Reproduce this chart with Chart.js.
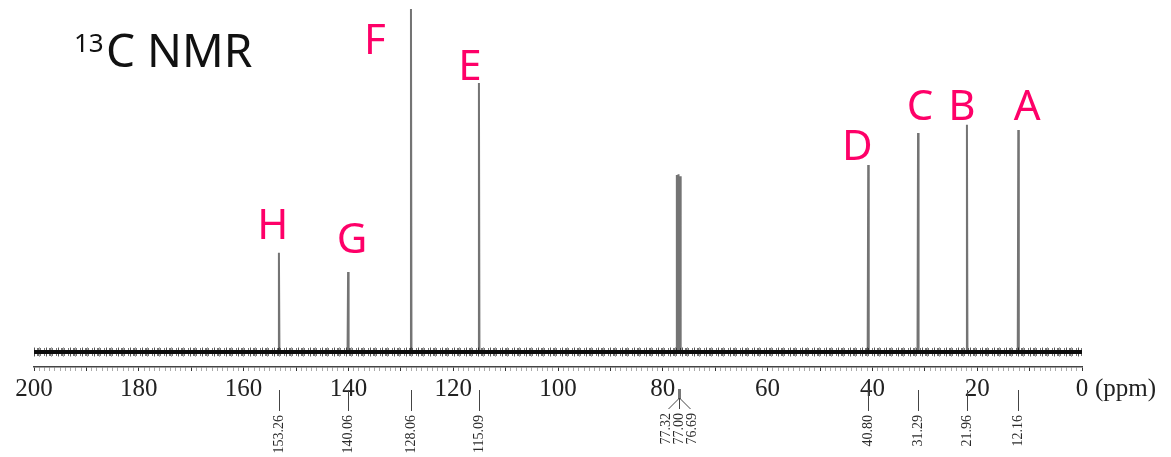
<!DOCTYPE html>
<html>
<head>
<meta charset="utf-8">
<script src="https://cdn.jsdelivr.net/npm/chart.js@4.4.1/dist/chart.umd.min.js"></script>
<style>
  html, body { margin: 0; padding: 0; background: #ffffff; }
  canvas { display: block; }
</style>
</head>
<body>
<canvas id="nmr" width="1171" height="457"></canvas>
<script>
// 13C NMR spectrum: chemical shifts (ppm) and relative peak heights
const shifts      = [153.26, 140.06, 128.06, 115.09, 77.32, 77.00, 76.69, 40.80, 31.29, 21.96, 12.16];
const intensities = [28.9,   23.3,   100.0,  78.4,   51.6,  51.8,  51.2,  54.5,  63.8,  66.2,  64.7];

// solvent (CDCl3) triplet, labelled as a group
const solventShifts = [77.32, 77.00, 76.69];

// carbon assignments
const assignLetters = ['H', 'G', 'F', 'E', 'D', 'C', 'B', 'A'];
const assignShifts  = [153.26, 140.06, 128.06, 115.09, 40.80, 31.29, 21.96, 12.16];

// axis
const axisMin = 0, axisMax = 200, labelStep = 20;

// ---- styling ----
const PINK = '#fe0068';
const letterOffsets = {      // [dx, dy] in px relative to peak top (baseline of the letter)
  H: [-6, -14], G: [4, -19], F: [-36, 45], E: [-9, -3],
  D: [-11, -5], C: [2, -13], B: [-5, -5], A: [9, -10]
};

// spectrum polyline: flat baseline with narrow peaks
const spectrum = [{ x: axisMax, y: 0 }];
shifts.forEach((p, i) => {
  spectrum.push({ x: p + 0.1, y: 0 }, { x: p, y: intensities[i] }, { x: p - 0.1, y: 0 });
});
spectrum.push({ x: axisMin, y: 0 });
const baseline = [{ x: axisMax, y: 0 }, { x: axisMin, y: 0 }];

const annotations = {
  id: 'annotations',
  afterDraw(chart) {
    const ctx = chart.ctx;
    const xs = chart.scales.x, ys = chart.scales.y;
    ctx.save();

    // title with superscript mass number
    ctx.fillStyle = '#111';
    ctx.textBaseline = 'alphabetic';
    ctx.textAlign = 'left';
    ctx.font = '26px "Noto Sans"';
    ctx.fillText('13', 74, 52);
    ctx.font = '46px "Noto Sans"';
    ctx.fillText('C NMR', 106, 67);

    // assignment letters
    ctx.fillStyle = PINK;
    ctx.font = '42px "Noto Sans"';
    ctx.textAlign = 'center';
    assignLetters.forEach((L, i) => {
      const p = assignShifts[i];
      const h = intensities[shifts.indexOf(p)];
      const [dx, dy] = letterOffsets[L];
      ctx.fillText(L, xs.getPixelForValue(p) + dx, ys.getPixelForValue(h) + dy);
    });

    // unit after the zero tick
    ctx.fillStyle = '#222';
    ctx.font = '25px "Liberation Serif"';
    ctx.textAlign = 'left';
    ctx.textBaseline = 'middle';
    ctx.fillText('(ppm)', xs.getPixelForValue(0) + 13, 389);

    // peak shift labels under the axis
    ctx.strokeStyle = '#444';
    ctx.fillStyle = '#2a2a2a';
    ctx.lineWidth = 1;
    ctx.font = '14px "Liberation Serif"';
    const drawRotated = (text, x, yTop) => {
      ctx.save();
      ctx.translate(x, yTop);
      ctx.rotate(-Math.PI / 2);
      ctx.textAlign = 'right';
      ctx.textBaseline = 'middle';
      ctx.fillText(text, 0, 0);
      ctx.restore();
    };
    shifts.forEach(p => {
      if (solventShifts.includes(p)) return;
      const x = Math.round(xs.getPixelForValue(p)) + 0.5;
      ctx.beginPath();
      ctx.moveTo(x, 390);
      ctx.lineTo(x, 411);
      ctx.stroke();
      drawRotated(p.toFixed(2), x, 415);
    });

    // solvent group: short bar, fan of leaders, three labels
    const cx = Math.round(xs.getPixelForValue(solventShifts[1])) + 0.5;
    ctx.strokeStyle = '#777';
    ctx.lineWidth = 3;
    ctx.beginPath(); ctx.moveTo(cx, 389); ctx.lineTo(cx, 399); ctx.stroke();
    ctx.strokeStyle = '#444';
    ctx.lineWidth = 1;
    const spread = [-11, 0, 11];
    spread.forEach(d => {
      ctx.beginPath(); ctx.moveTo(cx, 398); ctx.lineTo(cx + d, 409); ctx.stroke();
    });
    solventShifts.forEach((p, i) => drawRotated(p.toFixed(2), cx + spread[i] * 1.2, 413));

    ctx.restore();
  }
};

new Chart(document.getElementById('nmr'), {
  type: 'line',
  data: {
    datasets: [
      // baseline drawn as a dense dark band with broken edges
      { data: baseline, borderColor: '#0d0d0d', borderWidth: 4, pointRadius: 0, order: 0 },
      { data: baseline, borderColor: 'rgba(0,0,0,0.55)', borderWidth: 8, borderDash: [1, 2, 2, 1, 1, 3, 1, 1], pointRadius: 0, order: 0 },
      { data: baseline, borderColor: 'rgba(0,0,0,0.3)', borderWidth: 10, borderDash: [1, 4, 1, 6], pointRadius: 0, order: 0 },
      { data: spectrum, borderColor: '#747474', borderWidth: 2, pointRadius: 0, order: 1, tension: 0 }
    ]
  },
  options: {
    responsive: false,
    animation: false,
    devicePixelRatio: 1,
    layout: { padding: { left: 34, right: 89, top: 0, bottom: 0 } },
    plugins: { legend: { display: false }, tooltip: { enabled: false } },
    scales: {
      x: {
        type: 'linear',
        reverse: true,
        min: axisMin,
        max: axisMax,
        afterFit: s => { s.height = 90; },
        border: { display: true, color: '#444', width: 1.5 },
        grid: {
          drawOnChartArea: false,
          drawTicks: true,
          tickLength: 4,
          tickWidth: 1,
          tickColor: c => (c.tick && c.tick.value % 10 === 0) ? '#333' : '#aaa'
        },
        ticks: {
          stepSize: 1,
          autoSkip: false,
          maxRotation: 0,
          minRotation: 0,
          padding: 3,
          color: '#222',
          font: { family: 'Liberation Serif', size: 25 },
          callback: v => (v % labelStep === 0) ? String(v) : ''
        }
      },
      y: { display: false, min: -4.4, max: 102.6 }
    }
  },
  plugins: [annotations]
});
</script>
</body>
</html>
